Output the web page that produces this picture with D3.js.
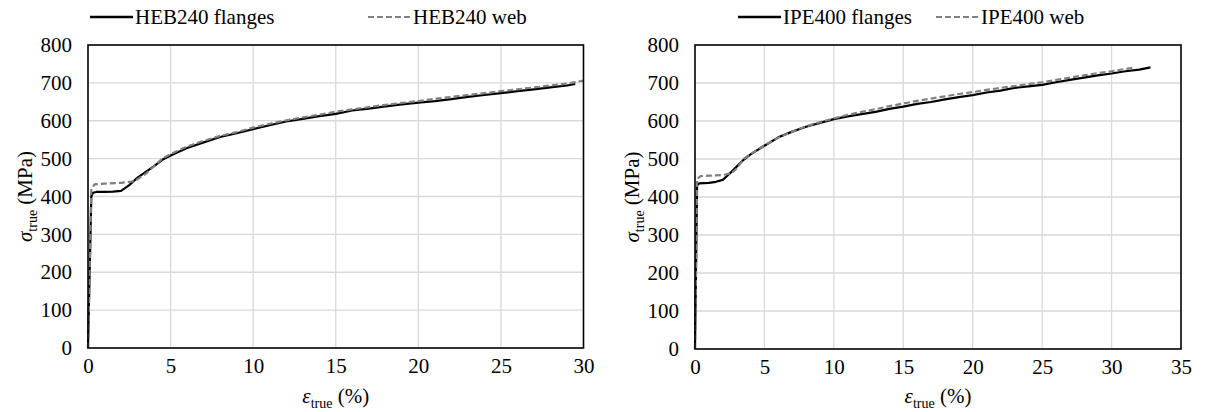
<!DOCTYPE html>
<html><head><meta charset="utf-8">
<script src="https://cdn.jsdelivr.net/npm/d3@7"></script>
</head><body style="margin:0;padding:0;background:#fff"><svg id="c" width="1207" height="412" font-family="Liberation Serif" style="display:block"></svg>
<script>
// ---- data ----
const hebFlangeX = [0,0.2,0.3,0.5,1.0,1.5,2.0,2.5,3,3.5,4,4.5,5,6,7,8,9,10,11,12,13,14,15,16,17,18,19,20,21,22,23,24,25,26,27,28,29,29.5];
const hebFlangeY = [0,400,410,412,412,413,415,430,450,465,480,497,508,528,543,557,567,578,588,598,605,612,618,627,632,638,643,648,652,657,663,668,673,678,683,688,693,697];
const hebWebX = [0,0.2,0.4,1,2,2.8,3.5,4,4.5,5,6,7,8,9,10,11,12,13,14,15,16,17,18,19,20,21,22,23,24,25,26,27,28,29,30];
const hebWebY = [0,420,432,434,436,440,460,480,500,512,532,547,560,570,582,592,601,609,616,624,630,636,642,647,652,658,663,668,673,678,683,688,693,698,706];
const ipeFlangeX = [0,0.15,0.3,1,1.5,2,2.5,3,3.5,4,5,6,7,8,9,10,11,12,13,14,15,16,17,18,19,20,21,22,23,24,25,26,27,28,29,30,31,32,32.8];
const ipeFlangeY = [0,430,436,437,440,445,462,480,498,512,535,557,572,585,595,605,612,618,624,632,638,645,650,657,663,668,675,680,687,691,695,702,708,714,720,725,731,735,741];
const ipeWebX = [0,0.15,0.4,1,2,2.6,3,3.5,4,5,6,7,8,9,10,11,12,13,14,15,16,17,18,19,20,21,22,23,24,25,26,27,28,29,30,31,31.5];
const ipeWebY = [0,448,455,456,458,462,475,500,513,536,556,572,586,597,607,616,624,631,639,646,653,659,665,671,676,682,687,692,697,702,708,714,720,726,731,737,740];
const yTicks = [0,100,200,300,400,500,600,700,800];
const xTicksLeft = [0,5,10,15,20,25,30];
const xTicksRight = [0,5,10,15,20,25,30,35];
const legendLeft = ["HEB240 flanges","HEB240 web"];
const legendRight = ["IPE400 flanges","IPE400 web"];

const FONT = "Liberation Serif";
const svg = d3.select("#c");
const zip = (xs, ys) => xs.map((x,i)=>[x, ys[i]]);
function txt(sel, size){
  return sel.attr("font-family",FONT).style("font-family",`"${FONT}"`).attr("font-size",size).style("font-size",size+"px").attr("fill","#000");
}

function panel(o){
  const g = svg.append("g");
  const x = d3.scaleLinear().domain([0,o.xmax]).range([o.l,o.r]);
  const y = d3.scaleLinear().domain([0,800]).range([o.b,o.t]);
  g.append("g").selectAll("line").data(o.xt.filter(d=>d>0&&d<o.xmax)).join("line")
    .attr("x1",d=>x(d)).attr("x2",d=>x(d)).attr("y1",o.t).attr("y2",o.b)
    .attr("stroke","#d9d9d9").attr("stroke-width",1.3);
  g.append("g").selectAll("line").data(yTicks.filter(d=>d>0&&d<800)).join("line")
    .attr("y1",d=>y(d)).attr("y2",d=>y(d)).attr("x1",o.l).attr("x2",o.r)
    .attr("stroke","#d9d9d9").attr("stroke-width",1.3);
  const ax = g.append("g").attr("transform",`translate(0,${o.b})`)
    .call(d3.axisBottom(x).tickValues(o.xt).tickSize(0).tickPadding(10));
  ax.attr("font-family",FONT).attr("font-size",21);
  ax.select(".domain").remove();
  txt(ax.selectAll("text"),21);
  const ay = g.append("g").attr("transform",`translate(${o.l},0)`)
    .call(d3.axisLeft(y).tickValues(yTicks).tickSize(0).tickPadding(16));
  ay.attr("font-family",FONT).attr("font-size",21);
  ay.select(".domain").remove();
  txt(ay.selectAll("text"),21);
  const line = d3.line().x(d=>x(d[0])).y(d=>y(d[1])).curve(d3.curveLinear);
  g.append("path").datum(o.s1).attr("d",line).attr("fill","none").attr("stroke","#000").attr("stroke-width",2.2).attr("stroke-linejoin","round");
  g.append("path").datum(o.s2).attr("d",line).attr("fill","none").attr("stroke","#808080").attr("stroke-width",2.2).attr("stroke-dasharray","6,3");
  g.append("rect").attr("x",o.l).attr("y",o.t).attr("width",o.r-o.l).attr("height",o.b-o.t)
    .attr("fill","none").attr("stroke","#000").attr("stroke-width",1.6);
  const yt = txt(g.append("text"),21).attr("transform",`translate(${o.l-56},${(o.t+o.b)/2}) rotate(-90)`)
    .attr("text-anchor","middle");
  yt.append("tspan").text("σ").attr("font-style","italic");
  yt.append("tspan").text("true").attr("font-size",14).style("font-size","14px").attr("dy",5);
  yt.append("tspan").text(" (MPa)").attr("dy",-5);
  const xtl = txt(g.append("text"),21).attr("x",(o.l+o.r)/2).attr("y",403)
    .attr("text-anchor","middle");
  xtl.append("tspan").text("ε").attr("font-style","italic");
  xtl.append("tspan").text("true").attr("font-size",14).style("font-size","14px").attr("dy",5);
  xtl.append("tspan").text(" (%)").attr("dy",-5);
  const ly = 17;
  g.append("line").attr("x1",o.lg[0]).attr("x2",o.lg[0]+43).attr("y1",ly).attr("y2",ly).attr("stroke","#000").attr("stroke-width",2.4);
  txt(g.append("text"),21).attr("x",o.lg[0]+45).attr("y",ly+7).text(o.names[0]);
  g.append("line").attr("x1",o.lg[1]).attr("x2",o.lg[1]+43).attr("y1",ly).attr("y2",ly).attr("stroke","#808080").attr("stroke-width",2.2).attr("stroke-dasharray","6,3");
  txt(g.append("text"),21).attr("x",o.lg[1]+45).attr("y",ly+7).text(o.names[1]);
}

panel({l:88,r:583.5,t:45,b:348,xmax:30,xt:xTicksLeft,s1:zip(hebFlangeX,hebFlangeY),s2:zip(hebWebX,hebWebY),lg:[90,368],names:legendLeft});
panel({l:695,r:1181,t:45,b:349,xmax:35,xt:xTicksRight,s1:zip(ipeFlangeX,ipeFlangeY),s2:zip(ipeWebX,ipeWebY),lg:[738,936],names:legendRight});
</script></body></html>
